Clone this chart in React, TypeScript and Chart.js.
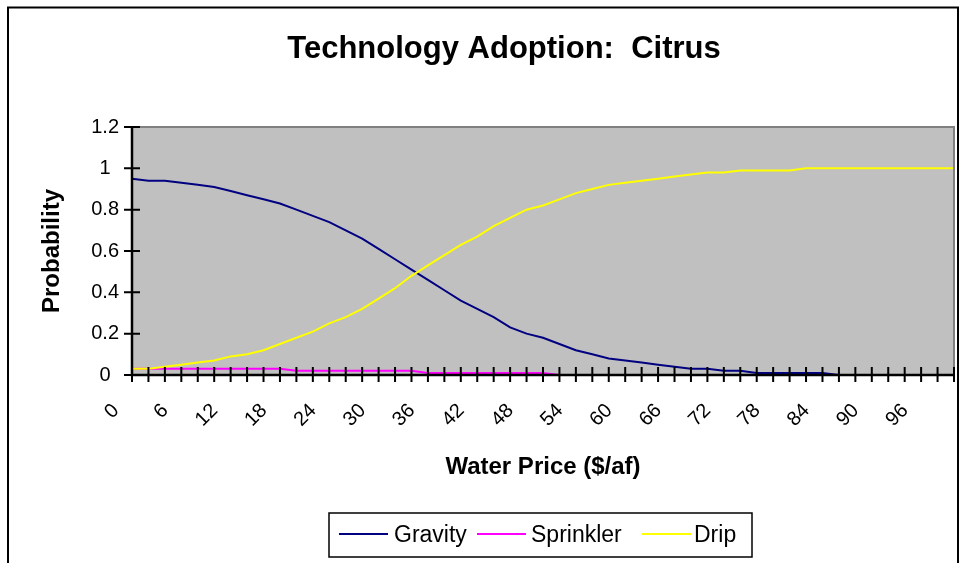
import React, { useEffect, useRef } from 'react';
import { Chart, registerables } from 'chart.js';

Chart.register(...registerables);

// ---- data ----
const waterPrice = [
  0, 2, 4, 6, 8, 10, 12, 14, 16, 18, 20, 22, 24, 26, 28, 30, 32, 34, 36, 38, 40,
  42, 44, 46, 48, 50, 52, 54, 56, 58, 60, 62, 64, 66, 68, 70, 72, 74, 76, 78, 80,
  82, 84, 86, 88, 90, 92, 94, 96, 98, 100,
];

const gravity = [
  0.95, 0.94, 0.94, 0.93, 0.92, 0.91, 0.89, 0.87, 0.85, 0.83,
  0.80, 0.77, 0.74, 0.70, 0.66, 0.61, 0.56, 0.51, 0.46, 0.41,
  0.36, 0.32, 0.28, 0.23, 0.20, 0.18, 0.15, 0.12, 0.10, 0.08,
  0.07, 0.06, 0.05, 0.04, 0.03, 0.03, 0.02, 0.02, 0.01, 0.01,
  0.01, 0.01, 0.01, 0, 0, 0, 0, 0, 0, 0, 0,
];

const sprinkler = [
  0.03, 0.03, 0.03, 0.03, 0.03, 0.03, 0.03, 0.03, 0.03, 0.03,
  0.02, 0.02, 0.02, 0.02, 0.02, 0.02, 0.02, 0.02, 0.01, 0.01,
  0.01, 0.01, 0.01, 0.01, 0.01, 0.01, 0, 0, 0, 0,
  0, 0, 0, 0, 0, 0, 0, 0, 0, 0,
  0, 0, 0, 0, 0, 0, 0, 0, 0, 0, 0,
];

const drip = [
  0.03, 0.03, 0.04, 0.05, 0.06, 0.07, 0.09, 0.10, 0.12, 0.15,
  0.18, 0.21, 0.25, 0.28, 0.32, 0.37, 0.42, 0.48, 0.53, 0.58,
  0.63, 0.67, 0.72, 0.76, 0.80, 0.82, 0.85, 0.88, 0.90, 0.92,
  0.93, 0.94, 0.95, 0.96, 0.97, 0.98, 0.98, 0.99, 0.99, 0.99,
  0.99, 1, 1, 1, 1, 1, 1, 1, 1, 1, 1,
];

const seriesNames = ['Gravity', 'Sprinkler', 'Drip'];
const seriesColors = ['#000080', '#FF00FF', '#FFFF00'];
const labelEvery = 6; // x tick label shown every 6 $/af
const yMin = 0;
const yMax = 1.2;
const yStep = 0.2;

const chartTitle = 'Technology Adoption:  Citrus';
const xTitle = 'Water Price ($/af)';
const yTitle = 'Probability';

const FONT = '"Liberation Sans", Arial, sans-serif';

const decorPlugin = {
  id: 'excelDecor',
  beforeDraw(chart: any) {
    const { ctx, chartArea } = chart;
    ctx.save();
    ctx.fillStyle = '#FFFFFF';
    ctx.fillRect(0, 0, chart.width, chart.height);
    // outer frame
    ctx.strokeStyle = '#000000';
    ctx.lineWidth = 2;
    ctx.strokeRect(8, 7.5, 950, 700);
    // plot area
    ctx.fillStyle = '#C0C0C0';
    ctx.fillRect(chartArea.left, chartArea.top, chartArea.right - chartArea.left, chartArea.bottom - chartArea.top);
    ctx.restore();
  },
  afterDatasetsDraw(chart: any) {
    const { ctx, chartArea } = chart;
    const { left, right, top, bottom } = chartArea;
    const xs = chart.scales.x;
    const ys = chart.scales.y;
    ctx.save();
    // gray border top and right
    ctx.strokeStyle = '#808080';
    ctx.lineWidth = 2;
    ctx.beginPath();
    ctx.moveTo(left, top);
    ctx.lineTo(right, top);
    ctx.lineTo(right, bottom);
    ctx.stroke();
    // axes
    ctx.strokeStyle = '#000000';
    ctx.lineWidth = 2.5;
    ctx.beginPath();
    ctx.moveTo(left, top - 1);
    ctx.lineTo(left, bottom);
    ctx.lineTo(right + 1, bottom);
    ctx.stroke();
    // cross tick marks
    ctx.lineWidth = 2;
    ctx.beginPath();
    for (let i = 0; i < ys.ticks.length; i++) {
      const y = ys.getPixelForTick(i);
      ctx.moveTo(left - 8, y);
      ctx.lineTo(left + 8, y);
    }
    for (let i = 0; i < xs.ticks.length; i++) {
      const x = xs.getPixelForTick(i);
      ctx.moveTo(x, bottom - 8);
      ctx.lineTo(x, bottom + 7);
    }
    ctx.stroke();
    ctx.restore();
  },
  afterDraw(chart: any) {
    const { ctx, chartArea } = chart;
    ctx.save();
    ctx.fillStyle = '#000000';
    // title
    ctx.font = `bold 31px ${FONT}`;
    ctx.textAlign = 'center';
    ctx.textBaseline = 'alphabetic';
    ctx.fillText(chartTitle, 504, 58);
    // x axis title
    ctx.font = `bold 24px ${FONT}`;
    ctx.fillText(xTitle, (chartArea.left + chartArea.right) / 2, 474);
    // y axis title
    ctx.save();
    ctx.translate(58.5, (chartArea.top + chartArea.bottom) / 2);
    ctx.rotate(-Math.PI / 2);
    ctx.fillText(yTitle, 0, 0);
    ctx.restore();

    // legend
    ctx.strokeStyle = '#000000';
    ctx.lineWidth = 1.5;
    ctx.strokeRect(329, 513, 423, 44);
    const lineStarts = [339, 477, 642];
    const textStarts = [394, 531, 694];
    ctx.font = `23px ${FONT}`;
    ctx.textAlign = 'left';
    ctx.textBaseline = 'middle';
    chart.data.datasets.forEach((ds: any, i: number) => {
      ctx.strokeStyle = ds.borderColor;
      ctx.lineWidth = 2;
      ctx.beginPath();
      ctx.moveTo(lineStarts[i], 534);
      ctx.lineTo(lineStarts[i] + 49, 534);
      ctx.stroke();
      ctx.fillStyle = '#000000';
      ctx.fillText(ds.label, textStarts[i], 536);
    });
    ctx.restore();
  },
};

export default function App() {
  const canvasRef = useRef<HTMLCanvasElement | null>(null);

  useEffect(() => {
    const canvas = canvasRef.current;
    if (!canvas) return;
    const seriesData = [gravity, sprinkler, drip];
    const drawOrder = [2, 1, 0];
    const chart = new Chart(canvas, {
      type: 'line',
      data: {
        labels: waterPrice.map(String),
        datasets: seriesNames.map((name, i) => ({
          label: name,
          data: seriesData[i],
          borderColor: seriesColors[i],
          backgroundColor: seriesColors[i],
          borderWidth: 2,
          pointRadius: 0,
          tension: 0,
          fill: false,
          order: drawOrder[i],
        })),
      },
      options: {
        responsive: false,
        maintainAspectRatio: false,
        animation: false,
        events: [],
        layout: { padding: { left: 72, top: 127, right: 6, bottom: 88 } },
        plugins: {
          legend: { display: false },
          title: { display: false },
          tooltip: { enabled: false },
        },
        scales: {
          x: {
            type: 'category',
            offset: false,
            grid: { display: false, drawTicks: false },
            border: { display: false },
            ticks: {
              autoSkip: false,
              minRotation: 45,
              maxRotation: 45,
              padding: 24,
              labelOffset: -16,
              color: '#000000',
              font: { family: FONT, size: 20 },
              callback: (_v: any, index: number) =>
                waterPrice[index] % labelEvery === 0 ? String(waterPrice[index]) : '',
            },
            afterFit: (s: any) => {
              s.height = 100;
              s.paddingLeft = 0;
              s.paddingRight = 0;
            },
          },
          y: {
            min: yMin,
            max: yMax,
            grid: { display: false, drawTicks: false },
            border: { display: false },
            ticks: {
              stepSize: yStep,
              padding: 13,
              crossAlign: 'center',
              color: '#000000',
              font: { family: FONT, size: 20 },
              callback: (v: any) => String(Math.round(Number(v) * 10) / 10),
            },
            afterFit: (s: any) => {
              s.width = 60;
              s.paddingTop = 0;
              s.paddingBottom = 0;
            },
          },
        },
      },
      plugins: [decorPlugin],
    } as any);
    return () => chart.destroy();
  }, []);

  return (
    <div style={{ position: 'fixed', left: 0, top: 0, width: 960, height: 563, background: '#fff' }}>
      <canvas ref={canvasRef} width={960} height={563} style={{ display: 'block', width: 960, height: 563 }} />
    </div>
  );
}
